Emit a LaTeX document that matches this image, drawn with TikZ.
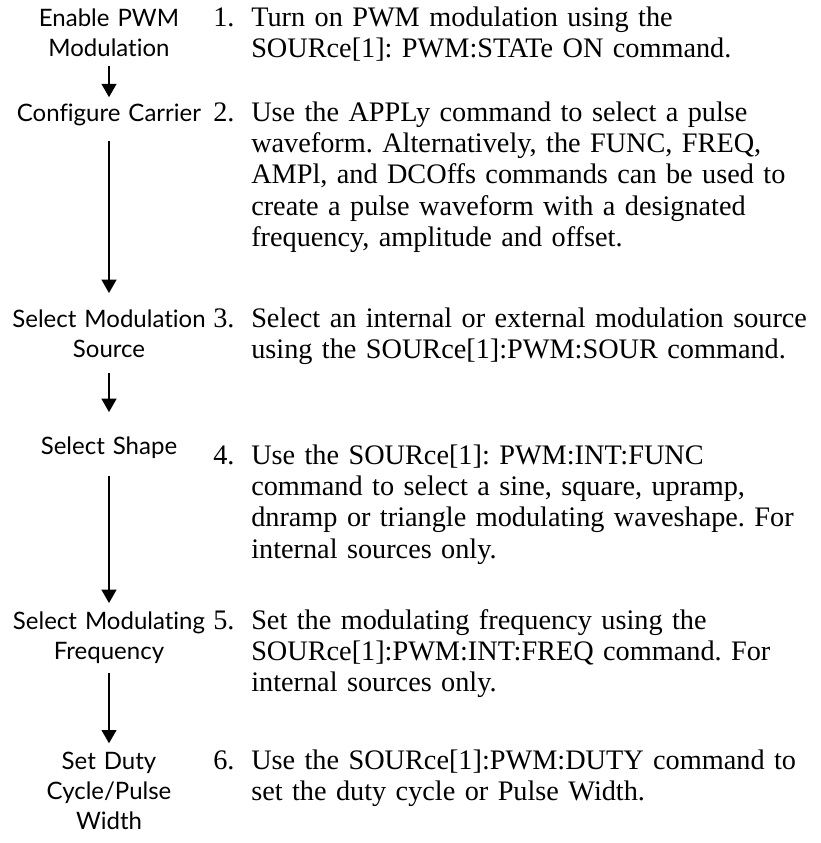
\documentclass[tikz,border=0pt]{standalone}
\usepackage{fontspec}
\setmainfont{Liberation Serif}
\newfontfamily\labelfont[Ligatures={NoCommon,NoRequired,NoContextual}]{Lato}
\usepackage{tikz}
\usetikzlibrary{arrows.meta}
\frenchspacing

\begin{document}
\begin{tikzpicture}[x=0.75pt, y=-0.75pt]
  \tikzstyle{steplabel}=[inner sep=0pt, text width=200pt, align=center, anchor=base, font=\labelfont\fontsize{18}{22.5}\selectfont]
  \tikzstyle{stepnum}=[inner sep=0pt, anchor=base west, font=\fontsize{21.2}{23.6}\selectfont]
  \tikzstyle{steptext}=[inner sep=0pt, text width=440pt, align=left, anchor=base west, font=\fontsize{21.2}{23.6}\selectfont]
  \tikzstyle{arrow}=[-{Triangle[length=10pt, width=11pt]}, line width=1.5pt]

  \useasboundingbox (0,0) rectangle (821,843);

  % left column
  \node[steplabel] (enable) at (109,26) {Enable PWM\\Modulation};
  \node[steplabel] (carrier) at (109,121) {Configure Carrier};
  \node[steplabel] (source) at (109,327) {Select Modulation\\Source};
  \node[steplabel] (shape) at (109,454) {Select Shape};
  \node[steplabel] (freq) at (109,629) {Select Modulating\\Frequency};
  \node[steplabel] (duty) at (109,769) {Set Duty\\Cycle/Pulse\\Width};

  % right column
  \node[stepnum] (n1) at (213,26) {1.};
  \node[steptext] (s1) at (251,26) {Turn on PWM modulation using the\\SOURce[1]: PWM:STATe ON command.};
  \node[stepnum] (n2) at (213,121) {2.};
  \node[steptext] (s2) at (251,121) {Use the APPLy command to select a pulse\\waveform. Alternatively, the FUNC, FREQ,\\AMPl, and DCOffs commands can be used to\\create a pulse waveform with a designated\\frequency, amplitude and offset.};
  \node[stepnum] (n3) at (213,327) {3.};
  \node[steptext] (s3) at (251,327) {Select an internal or external modulation source\\using the SOURce[1]:PWM:SOUR command.};
  \node[stepnum] (n4) at (213,464) {4.};
  \node[steptext] (s4) at (251,464) {Use the SOURce[1]: PWM:INT:FUNC\\command to select a sine, square, upramp,\\dnramp or triangle modulating waveshape. For\\internal sources only.};
  \node[stepnum] (n5) at (213,629) {5.};
  \node[steptext] (s5) at (251,629) {Set the modulating frequency using the\\SOURce[1]:PWM:INT:FREQ command. For\\internal sources only.};
  \node[stepnum] (n6) at (213,769) {6.};
  \node[steptext] (s6) at (251,769) {Use the SOURce[1]:PWM:DUTY command to\\set the duty cycle or Pulse Width.};

  \draw[arrow, shorten <=7.5pt, shorten >=4.5pt] (enable) -- (carrier);
  \draw[arrow, shorten <=11.25pt, shorten >=12pt] (carrier) -- (source);
  \draw[arrow, shorten <=12pt, shorten >=18pt] (source) -- (shape);
  \draw[arrow, shorten <=13.5pt, shorten >=6pt] (shape) -- (freq);
  \draw[arrow, shorten <=7.5pt, shorten >=6pt] (freq) -- (duty);
\end{tikzpicture}
\end{document}
